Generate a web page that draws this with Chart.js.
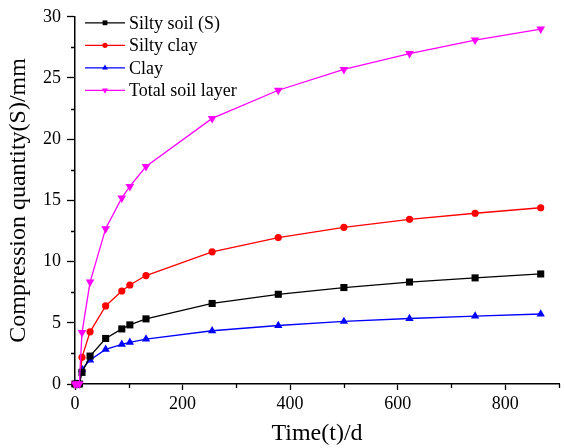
<!DOCTYPE html>
<html>
<head>
<meta charset="utf-8">
<script src="https://cdn.jsdelivr.net/npm/chart.js@4.4.0/dist/chart.umd.min.js"></script>
<style>
  body { margin: 0; background: #fff; }
  canvas { display: block; }
</style>
</head>
<body>
<canvas id="myChart" width="564" height="448"></canvas>
<script>
// Data
const days = [0, 4, 8, 13, 28, 57, 87, 102, 132, 255, 378, 500, 622, 744, 866];
const siltySoil = [0, 0, 0, 0.95, 2.28, 3.72, 4.5, 4.83, 5.32, 6.58, 7.33, 7.88, 8.33, 8.67, 8.99];
const siltyClay = [0, 0, 0, 2.18, 4.26, 6.38, 7.6, 8.09, 8.86, 10.8, 11.96, 12.8, 13.45, 13.95, 14.4];
const clay = [0, 0, 0, 1.2, 1.96, 2.83, 3.24, 3.4, 3.67, 4.35, 4.78, 5.11, 5.35, 5.55, 5.72];
const totalLayer = [0, 0, 0, 4.2, 8.33, 12.69, 15.2, 16.14, 17.77, 21.7, 24.0, 25.7, 27.0, 28.1, 29.0];

const seriesNames = ["Silty soil (S)", "Silty clay", "Clay", "Total soil layer"];
const xMinorTicks = [100, 300, 500, 700, 900];
const yMinorTicks = [2.5, 7.5, 12.5, 17.5, 22.5, 27.5];

const FONT = "'Liberation Serif', 'Times New Roman', serif";

function toPoints(values) {
    return days.map((d, i) => ({ x: d, y: values[i] }));
}

function makeDataset(label, values, color, style, radius, rotation, order) {
    return {
        label: label,
        data: toPoints(values),
        borderColor: color,
        backgroundColor: color,
        borderWidth: 1.3,
        pointStyle: style,
        pointRadius: radius,
        pointRotation: rotation,
        pointBorderWidth: 0,
        tension: 0,
        clip: false,
        order: order
    };
}

// Minor ticks on both axes
const minorTicks = {
    id: "minorTicks",
    afterDraw(chart) {
        const ctx = chart.ctx;
        const xs = chart.scales.x;
        const ys = chart.scales.y;
        ctx.save();
        ctx.strokeStyle = "#000";
        ctx.lineWidth = 1.3;
        ctx.beginPath();
        xMinorTicks.forEach(v => {
            const px = Math.round(xs.getPixelForValue(v)) + 0.5;
            ctx.moveTo(px, xs.top);
            ctx.lineTo(px, xs.top + 4);
        });
        yMinorTicks.forEach(v => {
            const py = Math.round(ys.getPixelForValue(v)) + 0.5;
            ctx.moveTo(ys.right, py);
            ctx.lineTo(ys.right - 4, py);
        });
        ctx.stroke();
        ctx.restore();
    }
};

// Legend drawn inside the plot, line + small marker + label
const insideLegend = {
    id: "insideLegend",
    afterDraw(chart) {
        const ctx = chart.ctx;
        const left = chart.chartArea.left + 10;
        let y = chart.chartArea.top + 6;
        ctx.save();
        ctx.font = "18px " + FONT;
        ctx.textBaseline = "middle";
        chart.data.datasets.forEach(ds => {
            ctx.strokeStyle = ds.borderColor;
            ctx.lineWidth = 1.3;
            ctx.beginPath();
            ctx.moveTo(left, y);
            ctx.lineTo(left + 40, y);
            ctx.stroke();
            ctx.fillStyle = ds.backgroundColor;
            ctx.strokeStyle = ds.borderColor;
            Chart.helpers.drawPoint(ctx, {
                pointStyle: ds.pointStyle,
                rotation: ds.pointRotation,
                radius: ds.pointStyle === "circle" ? 2.6 : 3.4,
                borderWidth: 0
            }, left + 20, y);
            ctx.fillStyle = "#000";
            ctx.fillText(ds.label, left + 44, y + 1);
            y += 22.5;
        });
        ctx.restore();
    }
};

const ctx = document.getElementById("myChart").getContext("2d");

new Chart(ctx, {
    type: "line",
    data: {
        datasets: [
            makeDataset(seriesNames[0], siltySoil, "#000000", "rect", 5, 0, 1),
            makeDataset(seriesNames[1], siltyClay, "#ff0000", "circle", 3.6, 0, 2),
            makeDataset(seriesNames[2], clay, "#0000ff", "triangle", 4.8, 0, 3),
            makeDataset(seriesNames[3], totalLayer, "#ff00ff", "triangle", 5, 180, 0)
        ]
    },
    options: {
        responsive: false,
        animation: false,
        layout: { padding: { top: 16, right: 0, left: 0, bottom: 0 } },
        plugins: {
            legend: { display: false },
            tooltip: { enabled: false }
        },
        scales: {
            x: {
                type: "linear",
                min: 0,
                max: 900,
                afterFit(scale) { scale.height = 64; },
                border: { display: true, color: "#000", width: 1.5 },
                grid: { drawOnChartArea: false, drawTicks: true, tickLength: 6, color: "#000", tickWidth: 1.3 },
                ticks: {
                    stepSize: 200,
                    includeBounds: false,
                    color: "#000",
                    padding: 3,
                    maxRotation: 0,
                    font: { family: FONT, size: 18 }
                },
                title: {
                    display: true,
                    text: "Time(t)/d",
                    color: "#000",
                    padding: { top: 0, bottom: 0 },
                    font: { family: FONT, size: 24 }
                }
            },
            y: {
                type: "linear",
                min: 0,
                max: 30,
                afterFit(scale) { scale.width = 75; },
                border: { display: true, color: "#000", width: 1.5 },
                grid: { drawOnChartArea: false, drawTicks: true, tickLength: 8, color: "#000", tickWidth: 1.3 },
                ticks: {
                    stepSize: 5,
                    color: "#000",
                    padding: 6,
                    font: { family: FONT, size: 18 }
                },
                title: {
                    display: true,
                    text: "Compression quantity(S)/mm",
                    color: "#000",
                    padding: { top: 4, bottom: 0 },
                    font: { family: FONT, size: 24 }
                }
            }
        }
    },
    plugins: [minorTicks, insideLegend]
});
</script>
</body>
</html>
